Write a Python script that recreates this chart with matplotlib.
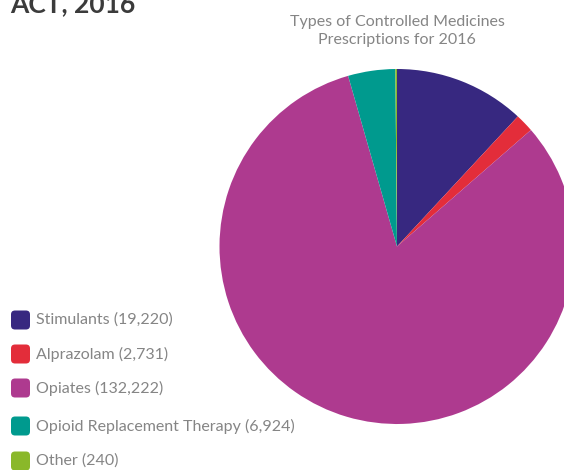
import matplotlib
matplotlib.use("Agg")
import matplotlib.pyplot as plt
from matplotlib.patches import FancyBboxPatch

# data
labels = ['Stimulants', 'Alprazolam', 'Opiates', 'Opioid Replacement Therapy', 'Other']
values = [19220, 2731, 132222, 6924, 240]
colors = ['#372880', '#e32d3a', '#ae3a8f', '#009a8e', '#8ab82a']

plt.rcParams['font.family'] = ['Lato', 'DejaVu Sans']

W, H = 564, 470
fig = plt.figure(figsize=(W / 100, H / 100), dpi=100)
ax = fig.add_axes([0, 0, 1, 1])

# pie, clockwise from the top
ax.pie(values, colors=colors, startangle=90, counterclock=False,
       center=(397, H - 246.5), radius=177.5, frame=True,
       wedgeprops={'linewidth': 0})
ax.set_xlim(0, W)
ax.set_ylim(0, H)
ax.set_axis_off()

# titles
ax.text(10, H - 12, 'ACT, 2016', fontsize=19, fontweight='bold', color='#3b3b3b',
        ha='left', va='baseline')
ax.text(397, H - 31, 'Types of Controlled Medicines\nPrescriptions for 2016',
        fontsize=11.5, color='#858585', ha='center', va='center',
        linespacing=1.3)

# legend
rows_y = [320, 354, 388, 426, 461]
for lab, val, col, y in zip(labels, values, colors, rows_y):
    box = FancyBboxPatch((11, H - y - 9.5), 19, 19,
                         boxstyle='round,pad=0,rounding_size=4',
                         facecolor=col, edgecolor='none')
    ax.add_patch(box)
    ax.text(36, H - y, f'{lab} ({val:,})', fontsize=11.5, color='#858585',
            ha='left', va='center')

fig.savefig('out.png', dpi=100)
